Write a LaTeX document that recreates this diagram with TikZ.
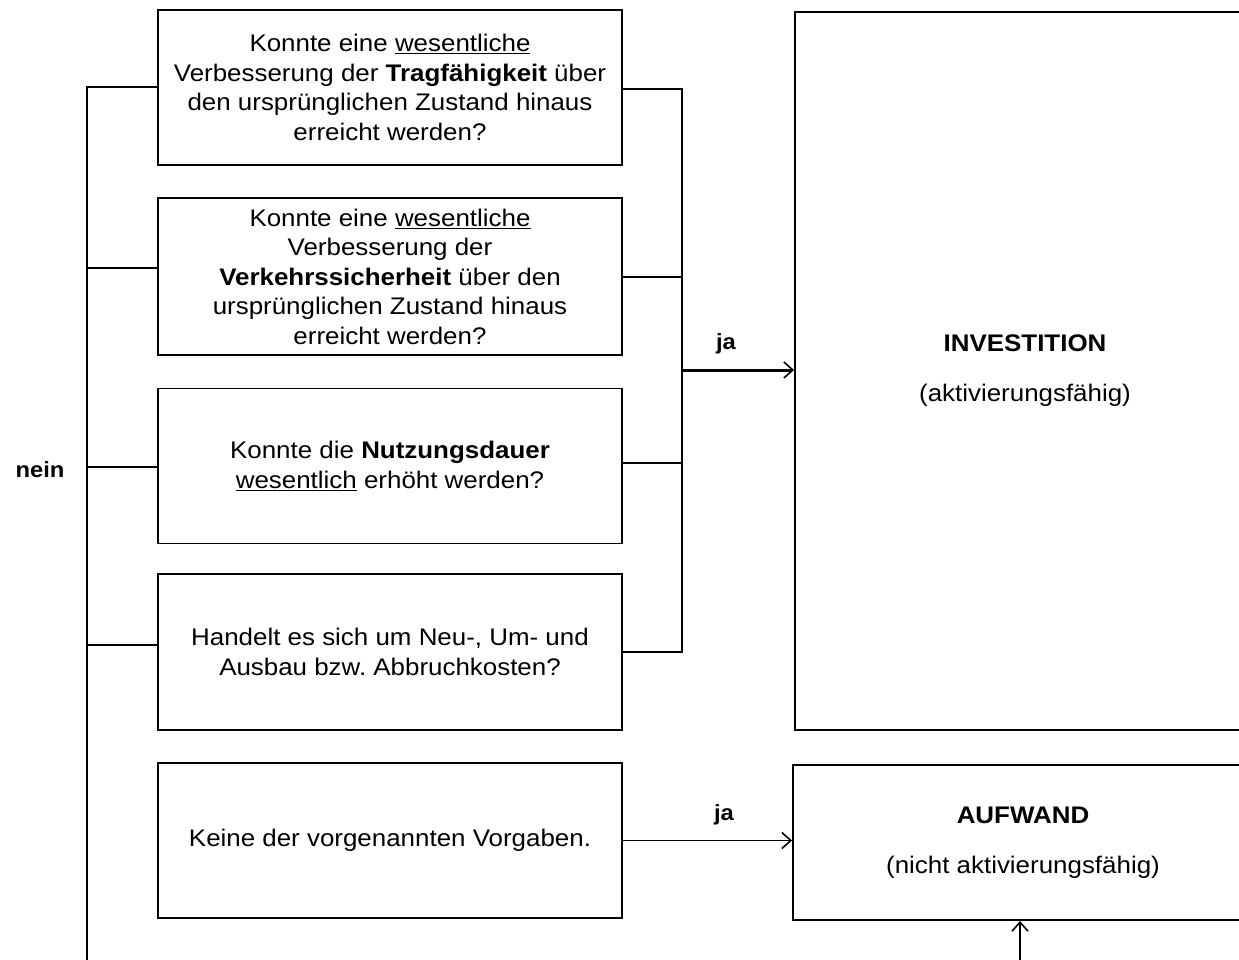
\documentclass[tikz,border=0pt]{standalone}
\usepackage{fontspec}
\setmainfont{Liberation Sans}[FakeStretch=1.08]
\usetikzlibrary{arrows.meta}
\begin{document}
\frenchspacing
\begin{tikzpicture}[x=1pt,y=-1pt,
  qbox/.style={draw,line width=1.9pt,minimum width=464pt,minimum height=155pt,inner sep=0pt,align=center,
    font=\fontsize{24}{29.5}\selectfont},
  rbox/.style={draw,line width=1.9pt,inner sep=0pt,align=center,font=\fontsize{24}{50}\selectfont},
  thinline/.style={line width=1.3pt},
  thickline/.style={line width=2.3pt},
  tip/.style={-{Straight Barb[length=9pt,width=16pt,line width=1.6pt]}},
  lbl/.style={font=\fontsize{22}{25}\selectfont\bfseries}]
\useasboundingbox (0,0) rectangle (1239,960);
\clip (0,0) rectangle (1239,960);
\fill[white] (0,0) rectangle (1239,960);

% question boxes
\node[qbox] (q1) at (390,87.5) {Konnte eine \underline{wesentliche}\\Verbesserung der \textbf{Tragfähigkeit} über\\den ursprünglichen Zustand hinaus\\erreicht werden?};
\node[qbox,minimum height=157pt] (q2) at (390,276.5) {Konnte eine \underline{wesentliche}\\Verbesserung der\\\textbf{Verkehrssicherheit} über den\\ursprünglichen Zustand hinaus\\erreicht werden?};
\node[qbox] (q3) at (390,466) {Konnte die \textbf{Nutzungsdauer}\\\underline{wesentlich} erhöht werden?};
\node[qbox,minimum height=156pt] (q4) at (390,652) {Handelt es sich um Neu-, Um- und\\Ausbau bzw. Abbruchkosten?};
\node[qbox] (q5) at (390,840.5) {Keine der vorgenannten Vorgaben.};

% result boxes
\node[rbox,minimum width=460pt,minimum height=718pt] (inv) at (1025,371) {\textbf{INVESTITION}\\(aktivierungsfähig)};
\node[rbox,minimum width=460pt,minimum height=155pt] (auf) at (1023,842.5) {\textbf{AUFWAND}\\(nicht aktivierungsfähig)};

% right trunk (ja)
\coordinate (rt) at (682,89);
\coordinate (rb) at (682,652);
\coordinate (rm) at (682,370);
\draw[thickline] (q1.east |- 0,89) -- (rt) -- (rb) -- (q4.east |- rb);
\draw[thickline] (q2.east |- 0,277) -- (682,277);
\draw[thickline] (q3.east |- 0,463) -- (682,463);
\draw[tip,line width=3pt] (rm) -- (inv.west |- rm);
\node[lbl] (ja1) at (726,344) {ja};

% bottom ja
\draw[thinline,tip] (q5.east) -- (auf.west |- q5.east);
\node[lbl] (ja2) at (724,815) {ja};

% left trunk (nein)
\coordinate (lt) at (87,87);
\coordinate (lb) at (87,965);
\draw[thinline] (q1.west |- lt) -- (lt) -- (lb);
\draw[thinline] (q2.west |- 0,268) -- (87,268);
\draw[thinline] (q3.west |- 0,467) -- (87,467);
\draw[thinline] (q4.west |- 0,645) -- (87,645);
\node[lbl] (nein) at (40,470) {nein};

% arrow into AUFWAND from below
\coordinate (ab) at (1020,965);
\draw[thinline,tip] (ab) -- (auf.south -| ab);
\end{tikzpicture}
\end{document}
